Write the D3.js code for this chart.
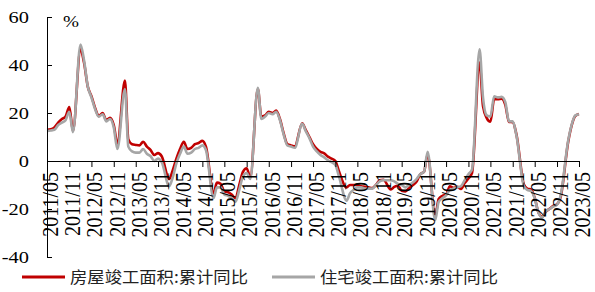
<!DOCTYPE html>
<html>
<head>
<meta charset="utf-8">
<script src="https://cdn.jsdelivr.net/npm/d3@7/dist/d3.min.js"></script>
<style>
  body { margin: 0; background: #fff; }
  svg { display: block; }
</style>
</head>
<body>
<div id="chart"></div>
<script>
// 0. data: monthly cumulative YoY (%), Jan is merged into Feb so it is skipped
var firstMonth = "2011/05";
var lastMonth = "2023/05";

// 房屋竣工面积:累计同比
var houseDone = [
  13.0, 13.2, 14.0, 16.0, 17.5, 18.5, 22.5, 12.5,                 // 2011 May-Dec
  46.5, 41.0, 31.0, 27.0, 22.0, 18.7, 20.0, 17.0, 18.0, 15.0, 7.3,   // 2012
  33.5, 9.0, 7.0, 6.7, 6.5, 8.0, 6.0, 4.5, 2.5, 3.3, 2.0,            // 2013
  -7.5, -4.0, 1.0, 5.0, 8.0, 5.0, 5.5, 7.0, 7.5, 8.4, 5.9,           // 2014
  -13.5, -9.0, -9.5, -12.8, -13.0, -14.0, -15.5, -10.0, -4.5, -3.0, -6.9, // 2015
  30.0, 18.5, 19.0, 20.5, 20.0, 21.0, 17.5, 11.5, 7.0, 6.5, 6.1,     // 2016
  15.7, 13.0, 10.0, 7.0, 5.0, 3.8, 3.2, 1.8, 1.0, 0.0, -4.4,         // 2017
  -11.0, -10.0, -10.0, -10.0, -10.5, -10.7, -11.0, -11.3, -10.0, -8.0, -7.8, // 2018
  -11.9, -10.8, -10.3, -12.4, -12.7, -11.3, -10.0, -8.6, -5.5, -4.5, 2.6,    // 2019
  -22.9, -15.8, -14.5, -14.0, -10.5, -11.2, -10.8, -11.6, -9.2, -7.3, -4.9,  // 2020
  41.0, 22.9, 17.9, 16.4, 25.7, 25.7, 26.0, 23.4, 16.3, 16.2, 11.2,          // 2021
  -9.8, -11.5, -11.9, -15.3, -21.5, -23.3, -21.1, -19.9, -18.7, -18.0, -15.0, // 2022
  8.0, 14.7, 18.8, 19.6                                              // 2023 Feb-May
];

// 住宅竣工面积:累计同比
var homeDone = [
  12.5, 12.7, 13.0, 15.0, 16.0, 17.0, 20.5, 12.0,
  48.5, 42.0, 31.0, 26.5, 21.5, 18.5, 19.5, 16.5, 17.5, 14.0, 5.0,
  30.0, 6.0, 4.0, 3.5, 3.5, 5.0, 3.0, 2.0, 0.0, 1.0, -0.5,
  -10.5, -7.0, -1.0, 3.0, 6.0, 3.0, 3.5, 5.0, 5.5, 6.5, 4.5,
  -15.5, -11.0, -11.0, -14.0, -14.5, -15.5, -17.0, -12.0, -6.5, -5.0, -7.5,
  30.5, 17.5, 18.5, 20.0, 19.5, 20.5, 17.0, 11.0, 6.5, 6.0, 5.5,
  15.5, 12.5, 9.5, 6.0, 4.0, 2.5, 1.5, 0.3, -0.5, -1.7, -6.5,
  -16.5, -13.5, -12.0, -11.0, -11.0, -11.5, -11.5, -11.5, -10.0, -8.5, -8.0,
  -8.0, -8.5, -9.5, -10.0, -11.0, -10.0, -9.0, -7.5, -5.5, -4.5, 3.8,
  -24.7, -17.0, -15.5, -14.3, -12.0, -11.5, -11.0, -10.5, -8.0, -5.5, -3.5,
  46.5, 26.5, 19.0, 18.5, 27.0, 26.5, 26.7, 24.5, 16.5, 16.5, 10.8,
  -10.5, -12.0, -12.5, -15.5, -21.5, -23.5, -21.0, -20.0, -19.0, -18.2, -14.3,
  8.5, 15.0, 19.0, 19.5
];

var seriesNames = ["房屋竣工面积:累计同比", "住宅竣工面积:累计同比"];
var seriesColors = ["#c00000", "#a6a6a6"];

var yTicks = [-40, -20, 0, 20, 40, 60];
var xTickLabels = [
  "2011/05", "2011/11", "2012/05", "2012/11", "2013/05", "2013/11",
  "2014/05", "2014/11", "2015/05", "2015/11", "2016/05", "2016/11",
  "2017/05", "2017/11", "2018/05", "2018/11", "2019/05", "2019/11",
  "2020/05", "2020/11", "2021/05", "2021/11", "2022/05", "2022/11",
  "2023/05"
];

// 0.1 size
var W = 595, H = 292;
var plot = { left: 47, right: 579, top: 17, bottom: 257 };
var stretch = 1.2; // the source picture is a bit wider than tall
var serif = "'Liberation Serif', 'Times New Roman', serif";

var parse = d3.timeParse("%Y/%m");

// month list without January
var months = d3.timeMonth.range(parse(firstMonth), d3.timeMonth.offset(parse(lastMonth), 1))
  .filter(function (d) { return d.getMonth() !== 0; });

var x = d3.scaleTime()
  .domain([parse(firstMonth), parse(lastMonth)])
  .range([plot.left, plot.right]);
var y = d3.scaleLinear()
  .domain([-40, 60])
  .range([plot.bottom, plot.top]);

// 1. DOM
var svg = d3.select("#chart").append("svg").attr("width", W).attr("height", H);

// lines
var line = d3.line()
  .x(function (d, i) { return x(months[i]); })
  .y(function (d) { return y(d); })
  .curve(d3.curveMonotoneX);

[houseDone, homeDone].forEach(function (vals, k) {
  svg.append("path")
    .datum(vals)
    .attr("fill", "none")
    .attr("stroke", seriesColors[k])
    .attr("stroke-width", 2.6)
    .attr("stroke-linejoin", "round")
    .attr("d", line);
});

// y axis
var yAxis = d3.axisLeft(y).tickValues(yTicks).tickSize(-5).tickSizeOuter(0).tickFormat("");
var gy = svg.append("g").attr("transform", "translate(" + plot.left + ",0)").call(yAxis);
gy.selectAll("path, line").attr("stroke", "#000");

svg.selectAll(".ylab")
  .data(yTicks)
  .enter().append("text")
  .attr("class", "ylab")
  .attr("transform", function (d) { return "translate(29," + y(d) + ") scale(" + stretch + ",1)"; })
  .attr("dy", "0.38em")
  .attr("text-anchor", "end")
  .attr("font-family", serif)
  .attr("font-size", 17)
  .text(function (d) { return d; });

// x axis at y=0
var xTickDates = xTickLabels.map(parse);
var xAxis = d3.axisBottom(x).tickValues(xTickDates).tickSize(6).tickSizeOuter(0).tickFormat("");
var gx = svg.append("g").attr("transform", "translate(0," + y(0) + ")").call(xAxis);
gx.selectAll("path, line").attr("stroke", "#000");

svg.selectAll(".xlab")
  .data(xTickLabels)
  .enter().append("text")
  .attr("class", "xlab")
  .attr("transform", function (d) {
    return "translate(" + x(parse(d)) + "," + (y(0) + 11) + ") scale(" + stretch + ",1) rotate(-90)";
  })
  .attr("dy", "0.45em")
  .attr("text-anchor", "end")
  .attr("font-family", serif)
  .attr("font-size", 20)
  .text(function (d) { return d; });

// unit
svg.append("text")
  .attr("transform", "translate(63,27) scale(" + stretch + ",1)")
  .attr("font-family", serif)
  .attr("font-size", 16)
  .text("%");

// legend
var legend = [
  { x1: 22, x2: 65, tx: 70 },
  { x1: 272, x2: 315, tx: 320 }
];
legend.forEach(function (l, k) {
  svg.append("line")
    .attr("x1", l.x1).attr("x2", l.x2)
    .attr("y1", 277).attr("y2", 277)
    .attr("stroke", seriesColors[k])
    .attr("stroke-width", 3);
  svg.append("text")
    .attr("x", l.tx).attr("y", 277)
    .attr("dy", "0.36em")
    .attr("font-family", "'Noto Sans CJK SC', sans-serif")
    .attr("font-size", 16)
    .attr("fill", "#222")
    .attr("textLength", 178)
    .attr("lengthAdjust", "spacingAndGlyphs")
    .text(seriesNames[k]);
});
</script>
</body>
</html>
